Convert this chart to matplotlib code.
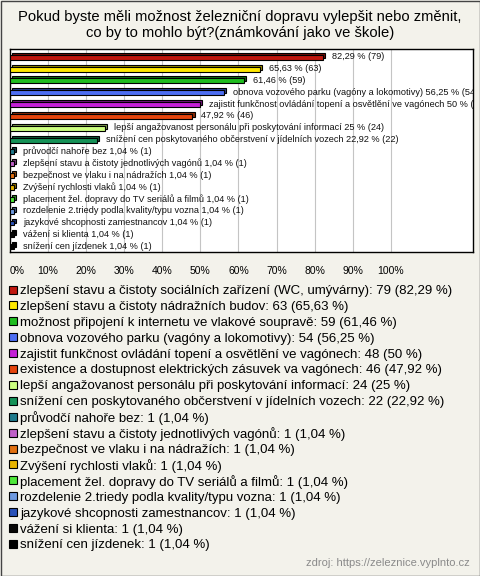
import matplotlib.pyplot as plt
from matplotlib.patches import Rectangle
from matplotlib.colors import to_rgb

plt.rcParams['font.family'] = ['Liberation Sans', 'DejaVu Sans']

title = 'Pokud byste měli možnost železniční dopravu vylepšit nebo změnit,\nco by to mohlo být?(známkování jako ve škole)'

categories = [
    'zlepšení stavu a čistoty sociálních zařízení (WC, umývárny)',
    'zlepšení stavu a čistoty nádražních budov',
    'možnost připojení k internetu ve vlakové soupravě',
    'obnova vozového parku (vagóny a lokomotivy)',
    'zajistit funkčnost ovládání topení a osvětlění ve vagónech',
    'existence a dostupnost elektrických zásuvek va vagónech',
    'lepší angažovanost personálu při poskytování informací',
    'snížení cen poskytovaného občerstvení v jídelních vozech',
    'průvodčí nahoře bez',
    'zlepšení stavu a čistoty jednotlivých vagónů',
    'bezpečnost ve vlaku i na nádražích',
    'Zvýšení rychlosti vlaků',
    'placement žel. dopravy do TV seriálů a filmů',
    'rozdelenie 2.triedy podla kvality/typu vozna',
    'jazykové shcopnosti zamestnancov',
    'vážení si klienta',
    'snížení cen jízdenek',
]
counts = [79, 63, 59, 54, 48, 46, 24, 22, 1, 1, 1, 1, 1, 1, 1, 1, 1]
percents = [82.29, 65.63, 61.46, 56.25, 50, 47.92, 25, 22.92,
            1.04, 1.04, 1.04, 1.04, 1.04, 1.04, 1.04, 1.04, 1.04]
# whether the bar label repeats the category name
named = [False, False, False, True, True, False, True, True,
         True, True, True, True, True, True, True, True, True]
colors = ['#c0170f', '#ffe800', '#1fbd1f', '#4d6ef2', '#c41fd6', '#e5440c',
          '#ccff80', '#159257', '#1f7a8c', '#c060c8', '#e27010', '#e8b400',
          '#4fe83a', '#6f9ae0', '#2a52b8', '#080808', '#000000']
ticks = [0, 10, 20, 30, 40, 50, 60, 70, 80, 90, 100]
source = 'zdroj: https://zeleznice.vyplnto.cz'

bg = '#f3f2eb'


def fmt(p):
    s = ('%.2f' % p).rstrip('0').rstrip('.')
    return s.replace('.', ',')


def darker(c, f=0.6):
    r, g, b = to_rgb(c)
    return (r * f, g * f, b * f)


fig = plt.figure(figsize=(4.8, 5.76), dpi=100, facecolor=bg)
W, H = 480, 576

ax = fig.add_axes([10 / W, 1 - 252 / H, 463 / W, 203 / H])
ax.set_facecolor('white')
ax.set_xlim(0, 121.6)
ax.set_ylim(16.45, -0.7)

for t in ticks:
    ax.axvline(t, color='#c4c4c4', lw=0.8, zorder=0)

ypos = list(range(len(categories)))
back = [darker(c) for c in colors]
ax.barh([y - 0.17 for y in ypos], percents, left=0.55, height=0.42,
        color=back, edgecolor='black', linewidth=0.8, zorder=2)
ax.barh(ypos, percents, height=0.42, color=colors,
        edgecolor='black', linewidth=0.8, zorder=3)

for y, name, p, n, show in zip(ypos, categories, percents, counts, named):
    lab = '%s %% (%d)' % (fmt(p), n)
    if show:
        lab = name + ' ' + lab
    # long labels get cut at the plot frame, as in the original
    ax.text(p + 2.3, y - 0.05, lab, fontsize=6.6, va='center', ha='left',
            color='#111111', clip_on=True, zorder=4)

ax.set_xticks(ticks)
ax.set_xticklabels(['%d%%' % t for t in ticks], fontsize=7.5)
ax.get_xticklabels()[0].set_ha('left')
ax.tick_params(axis='x', length=0, pad=10)
ax.set_yticks([])
for s in ax.spines.values():
    s.set_color('black')
    s.set_linewidth(1)

fig.text(0.5, 1 - 25 / H, title, ha='center', va='center', fontsize=10.6,
         linespacing=1.1)

# legend rows, evenly spaced
row0, step = 289.5, 15.9
for i, (name, n, p, c) in enumerate(zip(categories, counts, percents, colors)):
    yc = row0 + i * step
    fig.patches.append(Rectangle((9 / W, 1 - (yc + 4) / H), 8 / W, 8 / H,
                                 transform=fig.transFigure, facecolor=c,
                                 edgecolor='black', linewidth=0.8))
    fig.text(20 / W, 1 - yc / H, '%s: %d (%s %%)' % (name, n, fmt(p)),
             ha='left', va='center_baseline', fontsize=9.5)

fig.text(470 / W, 1 - 563 / H, source, ha='right', va='center', fontsize=8,
         color='#8a8a8a')

fig.patches.append(Rectangle((0.5 / W, 0.5 / H), 1 - 1 / W, 1 - 1 / H,
                             transform=fig.transFigure, fill=False,
                             edgecolor='#444444', linewidth=1))

fig.savefig('out.png', dpi=100, facecolor=bg)
